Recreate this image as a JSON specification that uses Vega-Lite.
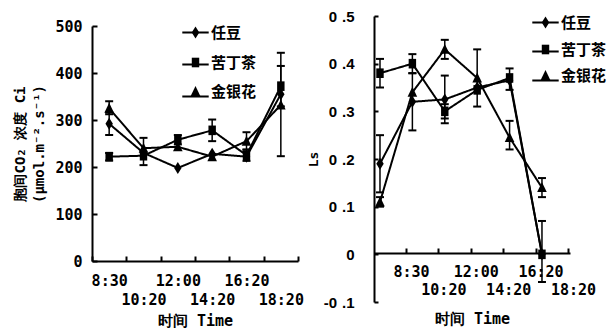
{
  "$schema": "https://vega.github.io/schema/vega-lite/v6.json",
  "background": "white",
  "padding": {"left": 13, "top": 9, "right": 0, "bottom": 0},
  "config": {
    "view": {"stroke": null},
    "axis": {
      "labelFont": "DejaVu Sans Mono", "labelFontSize": 15, "labelFontWeight": "bold", "labelColor": "black",
      "titleFont": "DejaVu Sans Mono", "titleFontSize": 15, "titleFontWeight": "bold", "titleColor": "black",
      "domainColor": "black", "domainWidth": 2, "tickColor": "black", "tickWidth": 2, "grid": false
    },
    "legend": {
      "labelFont": "Noto Sans CJK SC", "labelFontSize": 15, "labelFontWeight": "bold", "labelColor": "black",
      "symbolSize": 144, "symbolStrokeWidth": 2, "symbolStrokeColor": "black", "symbolFillColor": "black",
      "labelOffset": 8, "padding": 0, "title": null
    }
  },
  "datasets": {
    "ci": [
      {"time": "8:30", "series": "任豆", "value": 292, "lo": 268, "hi": 316},
      {"time": "10:20", "series": "任豆", "value": 230, "lo": 204, "hi": 262},
      {"time": "12:00", "series": "任豆", "value": 198},
      {"time": "14:20", "series": "任豆", "value": 228},
      {"time": "16:20", "series": "任豆", "value": 222},
      {"time": "18:20", "series": "任豆", "value": 355},
      {"time": "8:30", "series": "苦丁茶", "value": 222, "lo": 214, "hi": 230},
      {"time": "10:20", "series": "苦丁茶", "value": 224},
      {"time": "12:00", "series": "苦丁茶", "value": 258, "lo": 248, "hi": 268},
      {"time": "14:20", "series": "苦丁茶", "value": 278, "lo": 255, "hi": 301},
      {"time": "16:20", "series": "苦丁茶", "value": 225, "lo": 213, "hi": 237},
      {"time": "18:20", "series": "苦丁茶", "value": 372, "lo": 329, "hi": 415},
      {"time": "8:30", "series": "金银花", "value": 325, "lo": 312, "hi": 340},
      {"time": "10:20", "series": "金银花", "value": 240},
      {"time": "12:00", "series": "金银花", "value": 243},
      {"time": "14:20", "series": "金银花", "value": 222},
      {"time": "16:20", "series": "金银花", "value": 255, "lo": 237, "hi": 274},
      {"time": "18:20", "series": "金银花", "value": 332, "lo": 223, "hi": 443}
    ],
    "ls": [
      {"time": "8:30", "series": "任豆", "value": 0.19, "lo": 0.13, "hi": 0.25},
      {"time": "10:20", "series": "任豆", "value": 0.32, "lo": 0.26, "hi": 0.38},
      {"time": "12:00", "series": "任豆", "value": 0.325, "lo": 0.275, "hi": 0.375},
      {"time": "14:20", "series": "任豆", "value": 0.35},
      {"time": "16:20", "series": "任豆", "value": 0.365},
      {"time": "18:20", "series": "任豆", "value": 0.0, "lo": -0.058, "hi": 0.07},
      {"time": "8:30", "series": "苦丁茶", "value": 0.38, "lo": 0.35, "hi": 0.41},
      {"time": "10:20", "series": "苦丁茶", "value": 0.40, "lo": 0.38, "hi": 0.42},
      {"time": "12:00", "series": "苦丁茶", "value": 0.30, "lo": 0.285, "hi": 0.315},
      {"time": "14:20", "series": "苦丁茶", "value": 0.345},
      {"time": "16:20", "series": "苦丁茶", "value": 0.37, "lo": 0.345, "hi": 0.39},
      {"time": "18:20", "series": "苦丁茶", "value": 0.0},
      {"time": "8:30", "series": "金银花", "value": 0.11, "lo": 0.10, "hi": 0.12},
      {"time": "10:20", "series": "金银花", "value": 0.34},
      {"time": "12:00", "series": "金银花", "value": 0.43, "lo": 0.41, "hi": 0.45},
      {"time": "14:20", "series": "金银花", "value": 0.37, "lo": 0.31, "hi": 0.43},
      {"time": "16:20", "series": "金银花", "value": 0.245, "lo": 0.22, "hi": 0.28},
      {"time": "18:20", "series": "金银花", "value": 0.14, "lo": 0.12, "hi": 0.16}
    ]
  },
  "resolve": {"scale": {"shape": "independent", "strokeDash": "independent", "x": "independent", "y": "independent"}, "legend": {"shape": "independent", "strokeDash": "independent"}},
  "spacing": 3,
  "hconcat": [
    {
      "width": 206,
      "height": 245,
      "data": {"name": "ci"},
      "encoding": {
        "x": {
          "field": "time", "type": "nominal",
          "sort": ["8:30", "10:20", "12:00", "14:20", "16:20", "18:20"],
          "scale": {"type": "band", "paddingInner": 0, "paddingOuter": 0},
          "axis": {
            "title": "时间 Time", "labelAngle": 0, "labelOverlap": false, "tickBand": "extent",
            "tickSize": -5, "labelPadding": 17, "labelLineHeight": 19, "titlePadding": 6,
            "labelExpr": "indexof(['10:20','14:20','18:20'], datum.value) >= 0 ? ['', datum.label] : datum.label"
          }
        },
        "y": {
          "field": "value", "type": "quantitative",
          "scale": {"domain": [0, 500], "nice": false, "range": [245, 10]},
          "axis": {"values": [0, 100, 200, 300, 400, 500], "tickSize": -5, "labelPadding": 15, "title": ["胞间CO₂ 浓度 Ci", "(μmol.m⁻².s⁻¹)"], "titlePadding": 8, "titleFontSize": 14, "titleLineHeight": 19}
        }
      },
      "layer": [
        {
          "mark": {"type": "line", "color": "black", "strokeWidth": 2},
          "encoding": {
            "detail": {"field": "series"},
            "strokeDash": {
              "field": "series", "type": "nominal",
              "scale": {"range": [[1, 0], [1, 0], [1, 0]]},
              "legend": {"orient": "none", "legendX": 96, "legendY": 9, "rowPadding": 16, "symbolType": "M-2.2,0H2.2", "symbolStrokeWidth": 2, "symbolStrokeColor": "black", "labelExpr": "''"}
            }
          }
        },
        {
          "transform": [{"filter": "isValid(datum.lo)"}],
          "mark": {"type": "rule", "color": "black", "strokeWidth": 1.5},
          "encoding": {"y": {"field": "lo", "type": "quantitative"}, "y2": {"field": "hi"}}
        },
        {
          "transform": [{"filter": "isValid(datum.lo)"}],
          "mark": {"type": "tick", "orient": "horizontal", "size": 8, "thickness": 2, "color": "black", "opacity": 1},
          "encoding": {"y": {"field": "lo", "type": "quantitative"}}
        },
        {
          "transform": [{"filter": "isValid(datum.lo)"}],
          "mark": {"type": "tick", "orient": "horizontal", "size": 8, "thickness": 2, "color": "black", "opacity": 1},
          "encoding": {"y": {"field": "hi", "type": "quantitative"}}
        },
        {
          "mark": {"type": "point", "filled": true, "opacity": 1, "color": "black", "size": 144},
          "encoding": {
            "shape": {
              "field": "series", "type": "nominal",
              "scale": {"domain": ["任豆", "苦丁茶", "金银花"], "range": ["M0,-1L0.62,0L0,1L-0.62,0Z", "M-0.62,-0.8H0.62V0.8H-0.62Z", "M0,-0.9L0.8,0.75L-0.8,0.75Z"]},
              "legend": {"orient": "none", "legendX": 96, "legendY": 9, "rowPadding": 10}
            }
          }
        }
      ]
    },
    {
      "width": 196,
      "height": 286,
      "data": {"name": "ls"},
      "encoding": {
        "x": {
          "field": "time", "type": "nominal",
          "sort": ["8:30", "10:20", "12:00", "14:20", "16:20", "18:20"],
          "scale": {"type": "point", "padding": 0.525, "align": 0.176},
          "axis": {
            "title": "时间 Time", "labelAngle": 0, "labelOverlap": false, "offset": -49,
            "tickSize": -5, "tickOffset": 26, "labelOffset": 5, "labelPadding": 16, "labelLineHeight": 18, "titlePadding": 14,
            "labelExpr": "indexof(['10:20','14:20','18:20'], datum.value) >= 0 ? ['', datum.label] : datum.label"
          }
        },
        "y": {
          "field": "value", "type": "quantitative",
          "scale": {"domain": [-0.1, 0.5], "nice": false, "zero": false},
          "axis": {"values": [-0.1, 0, 0.1, 0.2, 0.3, 0.4, 0.5], "tickSize": -4, "labelPadding": 24, "labelFont": "Liberation Sans", "labelExpr": "datum.value == 0 ? '0' : (datum.value < 0 ? '-0\u2004.' : '0\u2004.') + round(abs(datum.value) * 10)", "title": "Ls", "titlePadding": 3, "titleFontSize": 13}
        }
      },
      "layer": [
        {
          "mark": {"type": "line", "color": "black", "strokeWidth": 2},
          "encoding": {
            "detail": {"field": "series"},
            "strokeDash": {
              "field": "series", "type": "nominal",
              "scale": {"range": [[1, 0], [1, 0], [1, 0]]},
              "legend": {"orient": "none", "legendX": 164, "legendY": -1, "rowPadding": 13, "symbolType": "M-2.2,0H2.2", "symbolStrokeWidth": 2, "symbolStrokeColor": "black", "labelExpr": "''"}
            }
          }
        },
        {
          "transform": [{"filter": "isValid(datum.lo)"}],
          "mark": {"type": "rule", "color": "black", "strokeWidth": 1.5},
          "encoding": {"y": {"field": "lo", "type": "quantitative"}, "y2": {"field": "hi"}}
        },
        {
          "transform": [{"filter": "isValid(datum.lo)"}],
          "mark": {"type": "tick", "orient": "horizontal", "size": 8, "thickness": 2, "color": "black", "opacity": 1},
          "encoding": {"y": {"field": "lo", "type": "quantitative"}}
        },
        {
          "transform": [{"filter": "isValid(datum.lo)"}],
          "mark": {"type": "tick", "orient": "horizontal", "size": 8, "thickness": 2, "color": "black", "opacity": 1},
          "encoding": {"y": {"field": "hi", "type": "quantitative"}}
        },
        {
          "mark": {"type": "point", "filled": true, "opacity": 1, "color": "black", "size": 144},
          "encoding": {
            "shape": {
              "field": "series", "type": "nominal",
              "scale": {"domain": ["任豆", "苦丁茶", "金银花"], "range": ["M0,-1L0.62,0L0,1L-0.62,0Z", "M-0.62,-0.8H0.62V0.8H-0.62Z", "M0,-0.9L0.8,0.75L-0.8,0.75Z"]},
              "legend": {"orient": "none", "legendX": 164, "legendY": -1, "rowPadding": 7}
            }
          }
        }
      ]
    }
  ]
}
